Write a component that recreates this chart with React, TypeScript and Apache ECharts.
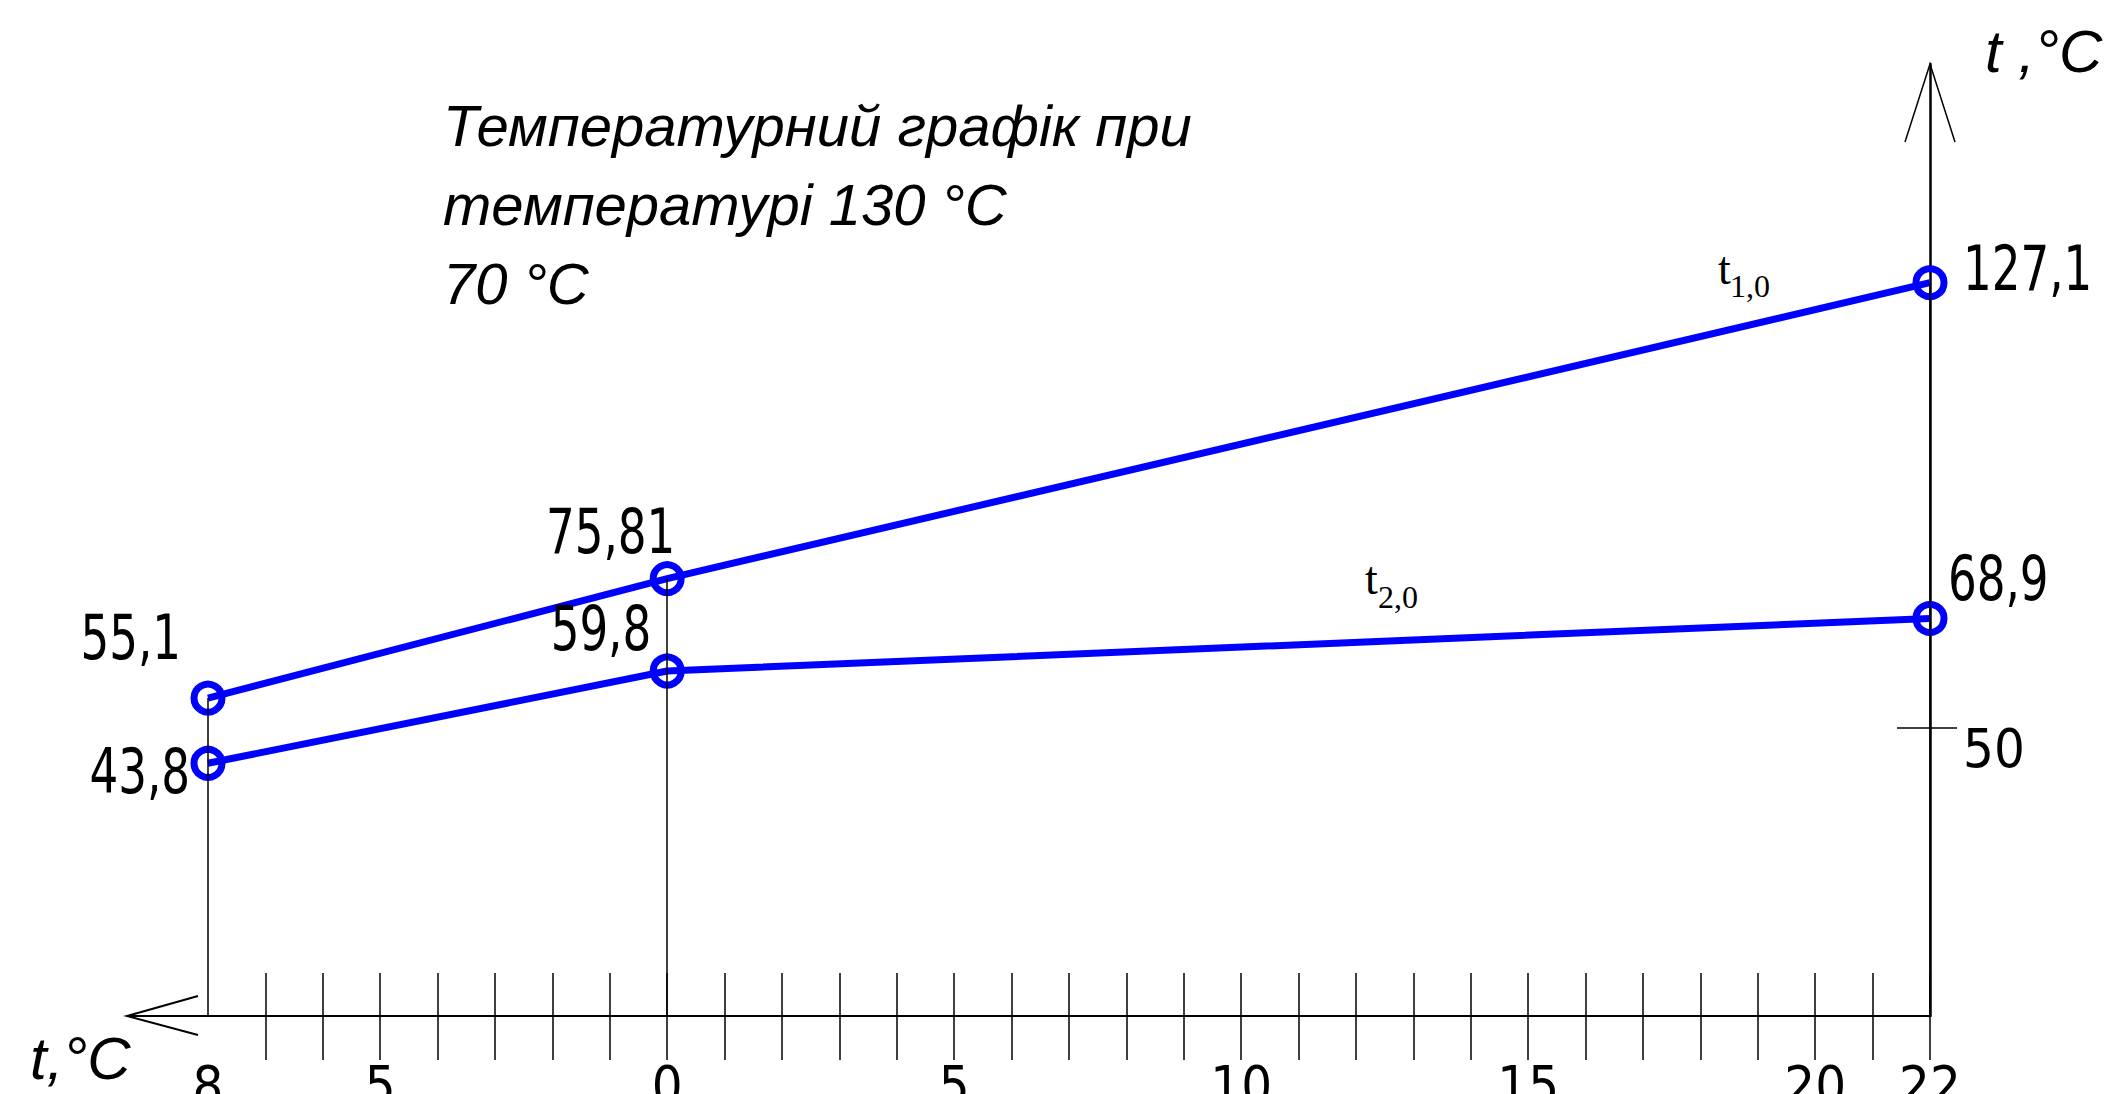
import React, { useEffect, useRef } from 'react';
import * as echarts from 'echarts';

// ---- data ----
const outdoorTemp = [8, 0, -22];
const supplyTemp = [55.1, 75.81, 127.1]; // t1,0
const returnTemp = [43.8, 59.8, 68.9]; // t2,0
const xLabelValues = [8, 5, 0, -5, -10, -15, -20, -22];
const xTickValues = [7, 6, 5, 4, 3, 2, 1, 0, -1, -2, -3, -4, -5, -6, -7, -8, -9, -10, -11, -12, -13, -14, -15, -16, -17, -18, -19, -20, -21, -22];
const yTickValues = [50];
const titleLines = ['Температурний графік при', 'температурі 130 °C', '70 °C'];
const seriesSubscripts = ['1,0', '2,0'];
const axisNameY = 't ,°C';
const axisNameX = 't,°C';

const X_MIN = -22;
const X_MAX = 8;
const Y_MIN = 0;
const Y_MAX = 165;

// ---- styles ----
const NUM_FONT = "'Liberation Sans Narrow', 'DejaVu Sans Condensed', 'Liberation Sans', sans-serif";
const ITALIC_FONT = "'Liberation Sans', 'DejaVu Sans', sans-serif";
const SERIF_FONT = "'Liberation Serif', 'DejaVu Serif', serif";
const BLUE = '#0000ff';
const NUM_SCALE_X = 0.81;

const supplyLabelLayout = [
  { align: 'right', offset: [-27, -61] },
  { align: 'right', offset: [8, -47] },
  { align: 'left', offset: [33, -14] },
];
const returnLabelLayout = [
  { align: 'right', offset: [-18, 8] },
  { align: 'right', offset: [-16, -42] },
  { align: 'left', offset: [18, -40] },
];
const seriesLabelPos = [
  { tx: 1718, ty: 268, sx: 1730, sy: 286 },
  { tx: 1365, ty: 578, sx: 1378, sy: 597 },
];

const fmt = (v: number) => String(v).replace('.', ',');

const toPoints = (ys: number[]) => outdoorTemp.map((x, i) => [x, ys[i]]);
const labelPoints = [...toPoints(supplyTemp), ...toPoints(returnTemp)];
const labelLayouts = [...supplyLabelLayout, ...returnLabelLayout];

function lineSeries(name: string, ys: number[], extra: any = {}) {
  return {
    name,
    type: 'line',
    data: toPoints(ys),
    symbol: 'circle',
    symbolSize: 28,
    lineStyle: { color: BLUE, width: 7 },
    itemStyle: { color: 'rgba(0,0,0,0)', borderColor: BLUE, borderWidth: 7 },
    label: { show: false },
    emphasis: { disabled: true },
    silent: true,
    z: 3,
    ...extra,
  };
}

export default function App() {
  const ref = useRef<HTMLDivElement>(null);
  useEffect(() => {
    const chart = echarts.init(ref.current!, null, { renderer: 'svg' });
    const baseX = {
      type: 'value',
      min: X_MIN,
      max: X_MAX,
      interval: 1,
      inverse: true,
      position: 'bottom',
      gridIndex: 0,
      splitLine: { show: false },
    };
    const baseY = {
      type: 'value',
      min: Y_MIN,
      max: Y_MAX,
      interval: 50,
      position: 'right',
      gridIndex: 0,
      splitLine: { show: false },
    };
    const option: any = {
      animation: false,
      backgroundColor: '#fff',
      title: {
        text: titleLines.join('\n'),
        left: 443,
        top: 86,
        padding: 0,
        textStyle: {
          fontFamily: ITALIC_FONT,
          fontStyle: 'italic',
          fontWeight: 'normal',
          fontSize: 58,
          lineHeight: 79,
          color: '#000',
        },
      },
      grid: { left: 208, right: 174, top: 64, bottom: 78, outerBoundsMode: 'none', containLabel: false },
      xAxis: [
        {
          ...baseX,
          axisLine: { show: true, onZero: false, lineStyle: { color: '#000', width: 2 } },
          axisTick: { show: true, inside: true, length: 43, customValues: xTickValues, lineStyle: { color: '#000', width: 1.5 } },
          axisLabel: {
            show: true,
            customValues: xLabelValues,
            margin: 42,
            color: '#000',
            fontSize: 54,
            fontFamily: NUM_FONT,
            formatter: (v: number) => (xLabelValues.includes(v) ? String(Math.abs(v)) : ''),
          },
        },
        {
          ...baseX,
          axisLine: { show: false, onZero: false },
          axisTick: { show: true, inside: false, length: 44, customValues: xTickValues, lineStyle: { color: '#000', width: 1.5 } },
          axisLabel: { show: false },
        },
      ],
      yAxis: [
        {
          ...baseY,
          axisLine: { show: true, onZero: false, lineStyle: { color: '#000', width: 2.5 } },
          axisTick: { show: true, inside: true, length: 33, customValues: yTickValues, lineStyle: { color: '#000', width: 1.5 } },
          axisLabel: {
            show: true,
            customValues: yTickValues,
            margin: 33,
            verticalAlign: 'top',
            lineHeight: 42,
            color: '#000',
            fontSize: 54,
            fontFamily: NUM_FONT,
            formatter: (v: number) => (yTickValues.includes(v) ? String(v) : ''),
          },
        },
        {
          ...baseY,
          axisLine: { show: false, onZero: false },
          axisTick: { show: true, inside: false, length: 27, customValues: yTickValues, lineStyle: { color: '#000', width: 1.5 } },
          axisLabel: { show: false },
        },
      ],
      series: [
        lineSeries('t1,0', supplyTemp, {
          markLine: {
            silent: true,
            symbol: ['none', 'none'],
            label: { show: false },
            emphasis: { disabled: true },
            lineStyle: { color: '#000', width: 1.5, type: 'solid' },
            data: outdoorTemp.map((x, i) => [{ coord: [x, supplyTemp[i]] }, { coord: [x, 0] }]),
          },
        }),
        lineSeries('t2,0', returnTemp),
        {
          // value labels, placed through the axes' scales
          type: 'custom',
          name: 'values',
          silent: true,
          clip: false,
          z: 6,
          data: labelPoints,
          renderItem: (params: any, api: any) => {
            const v = [api.value(0), api.value(1)];
            const p = api.coord(v);
            const L = labelLayouts[params.dataIndex];
            return {
              type: 'text',
              x: p[0] + L.offset[0],
              y: p[1] + L.offset[1],
              scaleX: NUM_SCALE_X,
              style: {
                text: fmt(v[1]),
                align: L.align,
                verticalAlign: 'middle',
                fontSize: 62,
                fontFamily: NUM_FONT,
                fill: '#000',
              },
            };
          },
        },
        {
          // axis arrows
          type: 'custom',
          name: 'arrows',
          silent: true,
          clip: false,
          z: 5,
          data: [[X_MAX, 0]],
          renderItem: (_params: any, api: any) => {
            const o = api.coord([X_MAX, 0]);
            const tipX = o[0] - 81;
            const top = api.coord([X_MIN, Y_MAX]);
            const st = { stroke: '#000', fill: 'none', lineWidth: 2 };
            return {
              type: 'group',
              children: [
                { type: 'line', shape: { x1: tipX, y1: o[1], x2: o[0], y2: o[1] }, style: st },
                {
                  type: 'polyline',
                  shape: { points: [[tipX + 71, o[1] - 20], [tipX, o[1]], [tipX + 71, o[1] + 19]] },
                  style: st,
                },
                {
                  type: 'polyline',
                  shape: { points: [[top[0] - 25, top[1] + 78], [top[0], top[1]], [top[0] + 25, top[1] + 78]] },
                  style: { ...st, lineWidth: 1.5 },
                },
              ],
            };
          },
        },
      ],
      graphic: [
        {
          type: 'text',
          x: 1985,
          y: 51,
          silent: true,
          style: { text: axisNameY, fontFamily: ITALIC_FONT, fontStyle: 'italic', fontSize: 60, fill: '#000', verticalAlign: 'middle' },
        },
        {
          type: 'text',
          x: 30,
          y: 1058,
          silent: true,
          style: { text: axisNameX, fontFamily: ITALIC_FONT, fontStyle: 'italic', fontSize: 60, fill: '#000', verticalAlign: 'middle' },
        },
        ...seriesSubscripts.flatMap((sub, i) => [
          {
            type: 'text',
            x: seriesLabelPos[i].tx,
            y: seriesLabelPos[i].ty,
            silent: true,
            style: { text: 't', fontFamily: SERIF_FONT, fontSize: 46, fill: '#000', verticalAlign: 'middle' },
          },
          {
            type: 'text',
            x: seriesLabelPos[i].sx,
            y: seriesLabelPos[i].sy,
            silent: true,
            style: { text: sub, fontFamily: SERIF_FONT, fontSize: 32, fill: '#000', verticalAlign: 'middle' },
          },
        ]),
      ],
    };
    chart.setOption(option);
    return () => chart.dispose();
  }, []);
  return (
    <div
      ref={ref}
      style={{ position: 'fixed', left: 0, top: 0, width: 2104, height: 1094, background: '#fff' }}
    />
  );
}
